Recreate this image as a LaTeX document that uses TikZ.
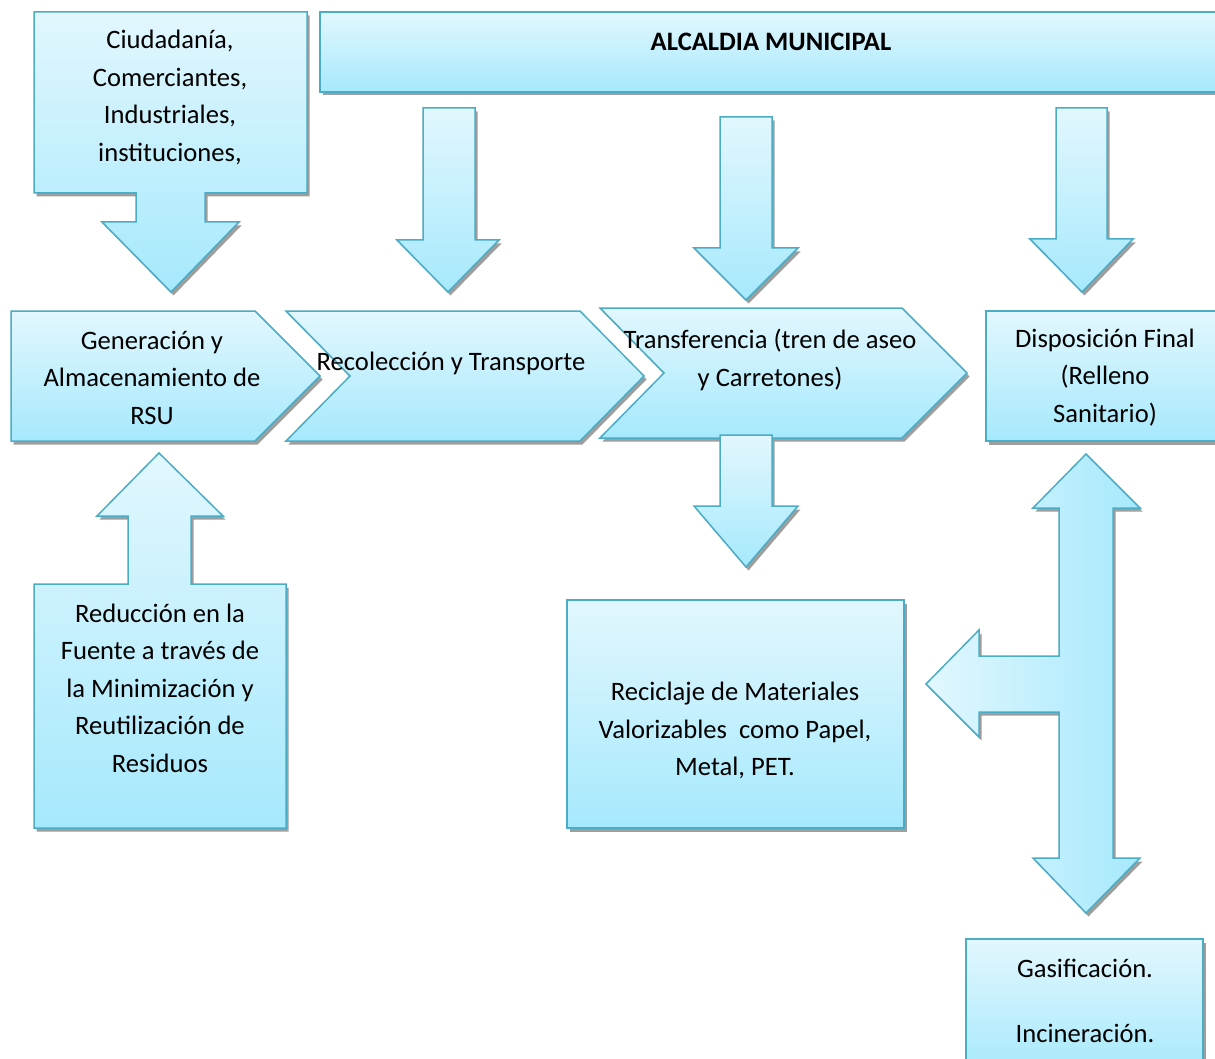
\documentclass[tikz,border=0pt]{standalone}
\usepackage{fontspec}
\setmainfont{Carlito}
\usetikzlibrary{shadows}
\definecolor{ctop}{RGB}{226,247,254}
\definecolor{cbot}{RGB}{166,233,252}
\definecolor{bord}{RGB}{75,172,198}
\definecolor{shad}{RGB}{158,158,158}
\tikzset{
  shd/.style={drop shadow={shadow xshift=2.5pt, shadow yshift=-3.5pt, fill=shad, opacity=1}},
  blk/.style={draw=bord, line width=1.5pt, line join=miter, top color=ctop, bottom color=cbot, shd},
  blkh/.style={draw=bord, line width=1.5pt, line join=miter, left color=ctop, right color=cbot, shd},
  txt/.style={font=\fontsize{26.6}{37.5}\selectfont, align=center, inner sep=0pt, text=black}
}
\begin{document}
\begin{tikzpicture}[x=1pt,y=-1pt]
\clip (0,0) rectangle (1215,1059);
\fill[white] (0,0) rectangle (1215,1059);
% top-left callout
\path[blk] (34,12) -- (307,12) -- (307,193) -- (205,193) -- (205,222) -- (239,222) -- (171,292) -- (102,222) -- (136,222) -- (136,193) -- (34,193) -- cycle;
\node[txt] (ciud) at (170,97.5) {Ciudadanía,\\Comerciantes,\\Industriales,\\instituciones,};
% Alcaldia
\path[blk] (320,12) rectangle (1230,92);
\node[txt, font=\fontsize{26.6}{37.5}\selectfont\bfseries] (alc) at (771,41.5) {ALCALDIA MUNICIPAL};
% down arrows from Alcaldia
\path[blk] (423,108) -- (475,108) -- (475,240) -- (499,240) -- (448,292) -- (397,240) -- (423,240) -- cycle;
\path[blk] (720,117) -- (772,117) -- (772,248) -- (798,248) -- (746,300) -- (694,248) -- (720,248) -- cycle;
\path[blk] (1056,108) -- (1107,108) -- (1107,239) -- (1133,239) -- (1082,292) -- (1030,239) -- (1056,239) -- cycle;
% process row
\path[blk] (11,311) -- (255,311) -- (320,376) -- (255,441) -- (11,441) -- cycle;
\node[txt] (gen) at (152,377.5) {Generación y\\Almacenamiento de\\RSU};
\path[blk] (286,311) -- (580,311) -- (644,376) -- (580,441) -- (286,441) -- (350,376) -- cycle;
\node[txt] (rec) at (451,363.5) {Recolección y Transporte};
\path[blk] (600,308) -- (902,308) -- (967,373) -- (902,438) -- (600,438) -- (664,373) -- cycle;
\node[txt] (tra) at (770,360) {Transferencia (tren de aseo\\y Carretones)};
\path[blk] (986,311) rectangle (1230,441);
\node[txt] (dis) at (1105,377.5) {Disposición Final\\(Relleno\\Sanitario)};
% down arrow from Transferencia
\path[blk] (720,435) -- (772,435) -- (772,506) -- (798,506) -- (746,567) -- (694,506) -- (720,506) -- cycle;
% Reciclaje
\path[blk] (567,600) rectangle (904,828);
\node[txt] (rcl) at (735,730.5) {Reciclaje de Materiales\\Valorizables\ \ como Papel,\\Metal, PET.};
% Reduccion callout
\path[blk] (34,584) -- (128,584) -- (128,516) -- (97,516) -- (159,453) -- (223,516) -- (191,516) -- (191,584) -- (286,584) -- (286,828) -- (34,828) -- cycle;
\node[txt] (red) at (160,688) {Reducción en la\\Fuente a través de\\la Minimización y\\Reutilización de\\Residuos};
% combined arrow
\path[blkh] (1086,454) -- (1140,508) -- (1113,508) -- (1113,858) -- (1140,858) -- (1086,913) -- (1033,858) -- (1059,858) -- (1059,712) -- (979,712) -- (979,737) -- (926,684) -- (979,630) -- (979,656) -- (1059,656) -- (1059,508) -- (1033,508) -- cycle;
% Gasificacion
\path[blk] (966,939) rectangle (1203,1075);
\node[txt] (gas) at (1085,1000.5) {Gasificación.\\[27.5pt]Incineración.};
\end{tikzpicture}
\end{document}
